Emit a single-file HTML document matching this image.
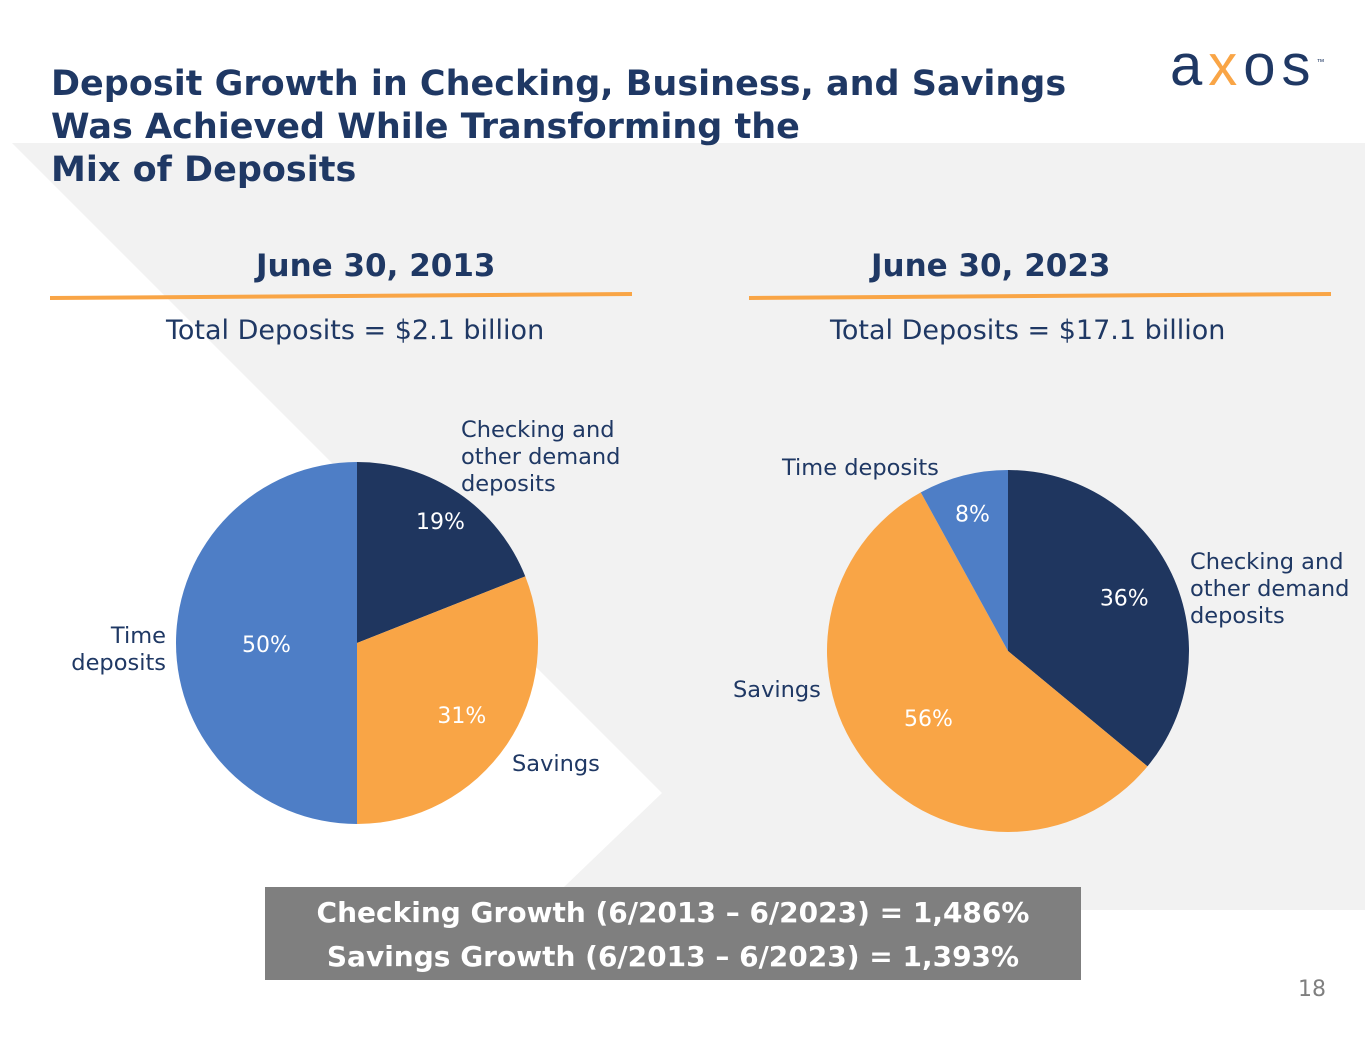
<!DOCTYPE html>
<html><head><meta charset="utf-8"><style>
body{margin:0;width:1365px;height:1055px;overflow:hidden;background:#fff;font-family:"DejaVu Sans","Liberation Sans",sans-serif;position:relative}
.t{position:absolute;white-space:nowrap;color:#1f3864}
</style></head><body>
<svg width="1365" height="1055" style="position:absolute;left:0;top:0">
<polygon points="12,143 1365,143 1365,910 540,910 662,793" fill="#f2f2f2"/>
<line x1="50" y1="298" x2="632" y2="294" stroke="#f9a546" stroke-width="4"/>
<line x1="749" y1="298" x2="1331" y2="294" stroke="#f9a546" stroke-width="4"/>
<g id="pies"></g>
<rect x="265" y="887" width="816" height="93" fill="#7f7f7f"/>
</svg>
<div class="t" style="left:51px;top:63px;font-size:35px;font-weight:bold;line-height:43px">Deposit Growth in Checking, Business, and Savings<br>Was Achieved While Transforming the<br>Mix of Deposits</div>
<div class="t" style="left:1170px;top:32px;font-size:58px;letter-spacing:6px;font-family:'Liberation Sans',sans-serif">a<span style="color:#f9a546">x</span>os<sup style="font-size:8px">™</sup></div>
<div class="t" style="left:256px;top:248px;font-size:31px;font-weight:bold">June 30, 2013</div>
<div class="t" style="left:871px;top:248px;font-size:31px;font-weight:bold">June 30, 2023</div>
<div class="t" style="left:166px;top:315px;font-size:27px">Total Deposits = $2.1 billion</div>
<div class="t" style="left:830px;top:315px;font-size:27px">Total Deposits = $17.1 billion</div>
<div class="t" style="left:461px;top:417px;font-size:22.5px;line-height:27px">Checking and<br>other demand<br>deposits</div>
<div class="t" style="left:40px;top:623px;font-size:22.5px;line-height:27px;text-align:right;width:126px">Time<br>deposits</div>
<div class="t" style="left:512px;top:751px;font-size:22.5px">Savings</div>
<div class="t" style="left:782px;top:455px;font-size:22.5px">Time deposits</div>
<div class="t" style="left:1190px;top:549px;font-size:22.5px;line-height:27px">Checking and<br>other demand<br>deposits</div>
<div class="t" style="left:733px;top:677px;font-size:22.5px">Savings</div>
<div class="t" style="left:265px;width:816px;top:891px;font-size:28px;font-weight:bold;color:#fff;text-align:center;line-height:44px">Checking Growth (6/2013 – 6/2023) = 1,486%<br>Savings Growth (6/2013 – 6/2023) = 1,393%</div>
<div class="t" style="left:1298px;top:977px;font-size:22px;color:#7f7f7f">18</div>
<script>
const categories = ["Checking", "Savings", "Time"];
const values2013 = [19, 31, 50];
const values2023 = [36, 56, 8];
const labels2013 = ["19%", "31%", "50%"];
const labels2023 = ["36%", "56%", "8%"];
const colors = ["#1f365f", "#f9a546", "#4e7ec6"];
const labelRad2013 = [0.82, 0.70, 0.50];
const labelRad2023 = [0.71, 0.57, 0.79];
const NS = "http://www.w3.org/2000/svg";
const g = document.getElementById("pies");
function pie(vals, labs, lrf, cx, cy, r, year) {
  const tot = vals.reduce((a, b) => a + b, 0);
  let a0 = 0;
  vals.forEach((v, i) => {
    const a1 = a0 + v / tot * 2 * Math.PI;
    const x0 = cx + r * Math.sin(a0), y0 = cy - r * Math.cos(a0);
    const x1 = cx + r * Math.sin(a1), y1 = cy - r * Math.cos(a1);
    const p = document.createElementNS(NS, "path");
    p.setAttribute("d", `M${cx},${cy}L${x0},${y0}A${r},${r} 0 ${a1 - a0 > Math.PI ? 1 : 0} 1 ${x1},${y1}Z`);
    p.setAttribute("fill", colors[i]);
    
    
    g.appendChild(p);
    const am = (a0 + a1) / 2, lr = r * lrf[i];
    const t = document.createElementNS(NS, "text");
    t.setAttribute("x", cx + lr * Math.sin(am));
    t.setAttribute("y", cy - lr * Math.cos(am) + 9);
    t.setAttribute("text-anchor", "middle");
    t.setAttribute("fill", "#fff");
    t.setAttribute("font-size", "22");
    t.setAttribute("font-family", "DejaVu Sans, Liberation Sans, sans-serif");
    t.textContent = labs[i];
    
    
    g.appendChild(t);
    a0 = a1;
  });
}
pie(values2013, labels2013, labelRad2013, 357, 643, 181, "2013");
pie(values2023, labels2023, labelRad2023, 1008, 651, 181, "2023");
</script>
</body></html>
